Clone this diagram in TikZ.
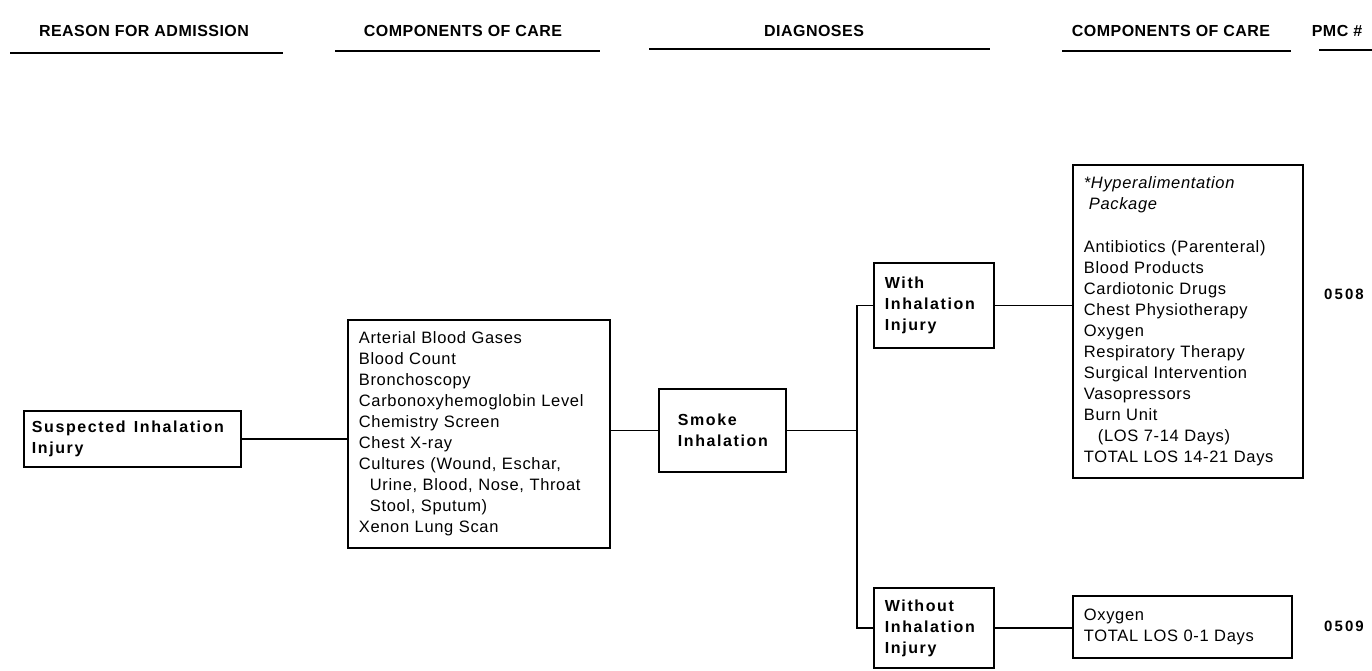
\documentclass[tikz,border=0pt]{standalone}
\usepackage{fontspec}
\setmainfont{Liberation Sans}
\newfontfamily\bodyfont{Liberation Sans}[LetterSpace=4]
\newfontfamily\boldsp{Liberation Sans}[LetterSpace=10]
\newfontfamily\headfont{Liberation Sans}[LetterSpace=3]
\newfontfamily\numfont{Liberation Sans}[LetterSpace=14]
\begin{document}
\begin{tikzpicture}[x=1pt,y=-1pt,
  conn/.style={line width=1.6pt},
  rule/.style={line width=2.2pt},
  boxbase/.style={draw, line width=1.8pt, anchor=north west, inner ysep=0pt, align=left},
  listbox/.style={boxbase, font=\bodyfont\fontsize{16.5}{21}\selectfont},
  diagbox/.style={boxbase, font=\boldsp\bfseries\fontsize{16}{21}\selectfont},
  header/.style={font=\headfont\bfseries\fontsize{16}{18}\selectfont},
  pmc/.style={font=\numfont\bfseries\fontsize{15}{18}\selectfont}
]
\useasboundingbox (0,0) rectangle (1372,670);

% headers
\node[header] (h1) at (144,31) {REASON FOR ADMISSION};
\node[header] (h2) at (463,31) {COMPONENTS OF CARE};
\node[header] (h3) at (814,31) {DIAGNOSES};
\node[header] (h4) at (1171,31) {COMPONENTS OF CARE};
\node[header] (h5) at (1337,31) {PMC \#};
\draw[rule] (10,53) -- (283,53);
\draw[rule] (335,51) -- (600,51);
\draw[rule] (649,49) -- (990,49);
\draw[rule] (1062,51) -- (1291,51);
\draw[rule] (1319,50) -- (1372,50);

% boxes
\node[diagbox, minimum width=217pt, minimum height=56pt, inner xsep=8pt, text width=201pt]
  (sus) at (23,410) {Suspected\hspace{3pt} Inhalation\\Injury};
\node[listbox, minimum width=262pt, minimum height=228pt, inner xsep=11pt, text width=240pt]
  (comp) at (347,319) {Arterial Blood Gases\\Blood Count\\Bronchoscopy\\Carbonoxyhemoglobin Level\\Chemistry Screen\\Chest X-ray\\Cultures (Wound, Eschar,\\\hspace*{11pt}Urine, Blood, Nose, Throat\\\hspace*{11pt}Stool, Sputum)\\Xenon Lung Scan};
\node[diagbox, minimum width=127pt, minimum height=83pt, inner xsep=19pt, text width=89pt]
  (smoke) at (658,388) {Smoke\\Inhalation};
\node[diagbox, minimum width=120pt, minimum height=85pt, inner xsep=11pt, text width=98pt]
  (with) at (873,262) {With\\Inhalation\\Injury};
\node[diagbox, minimum width=120pt, minimum height=80pt, inner xsep=11pt, text width=98pt]
  (without) at (873,587) {Without\\Inhalation\\Injury};
\node[listbox, minimum width=230pt, minimum height=313pt, inner xsep=11pt, text width=208pt]
  (care) at (1072,164) {\textit{*Hyperalimentation}\\\hspace*{5pt}\textit{Package}\\[22pt]Antibiotics (Parenteral)\\Blood Products\\Cardiotonic Drugs\\Chest Physiotherapy\\Oxygen\\Respiratory Therapy\\Surgical Intervention\\Vasopressors\\Burn Unit\\\hspace*{14pt}(LOS 7-14 Days)\\TOTAL LOS 14-21 Days};
\node[listbox, minimum width=219pt, minimum height=62pt, inner xsep=11pt, text width=197pt]
  (oxy) at (1072,595) {Oxygen\\TOTAL LOS 0-1 Days};

% PMC numbers
\node[pmc] (p1) at (1344,294) {0508};
\node[pmc] (p2) at (1344,626) {0509};

% connectors
\coordinate (j) at (857,430);
\draw[conn] (sus.east) -- (sus.east -| comp.west);
\draw[conn] (smoke.west -| comp.east) -- (smoke.west);
\draw[conn] (smoke.east) -- (smoke.east -| j);
\draw[conn] (with.west) -- (with.west -| j) -- (without.west -| j) -- (without.west);
\draw[conn] (with.east) -- (with.east -| care.west);
\draw[conn] (without.east) -- (without.east -| oxy.west);
\end{tikzpicture}
\end{document}
